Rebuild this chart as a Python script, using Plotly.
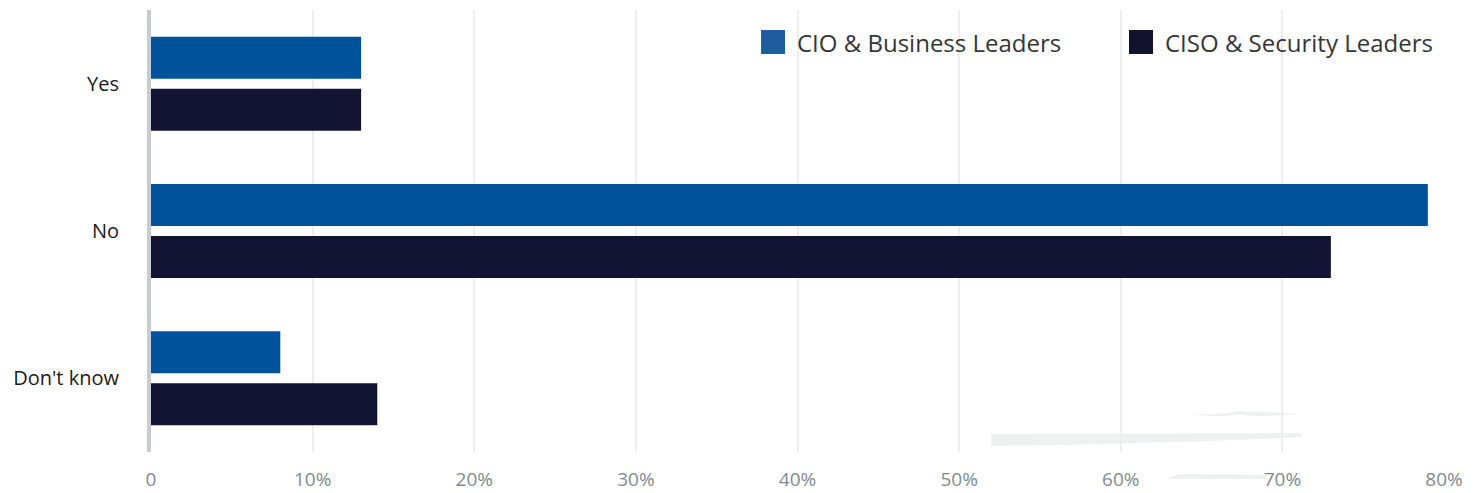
import plotly.graph_objects as go

# Survey responses (% of respondents)
categories = ["Yes", "No", "Don't know"]
series_names = ["CIO & Business Leaders", "CISO & Security Leaders"]
cio_values = [13, 79, 8]
ciso_values = [13, 73, 14]
x_tickvals = [0, 10, 20, 30, 40, 50, 60, 70, 80]
x_ticktext = ["0", "10%", "20%", "30%", "40%", "50%", "60%", "70%", "80%"]

colors = ["#00529b", "#131433"]
legend_colors = ["#1f5c9e", "#12122f"]
font_family = "'Open Sans', Lato, sans-serif"

fig = go.Figure()
for name, vals, col in zip(series_names, [cio_values, ciso_values], colors):
    fig.add_trace(go.Bar(
        y=categories, x=vals, name=name, orientation="h",
        marker=dict(color=col, line=dict(width=0)),
        hoverinfo="x+name",
    ))

# Custom legend: square swatch + label, top right
legend_x = [0.4718, 0.7564]  # paper coordinates of the swatches' left edges
for name, col, lx in zip(series_names, legend_colors, legend_x):
    fig.add_shape(type="rect", xref="paper", yref="paper",
                  x0=lx, x1=lx + 0.01856, y0=0.9005, y1=0.9548,
                  fillcolor=col, line=dict(width=0), layer="above")
    fig.add_annotation(xref="paper", yref="paper", x=lx + 0.0265, y=0.9276,
                       text=name, showarrow=False, xanchor="left", yanchor="middle",
                       font=dict(family=font_family, size=24, color="#363636"))

# Faint background watermark strokes
wm = "#eff1f1"
fig.add_shape(type="path", xref="paper", yref="paper", layer="below",
              path="M 0.6497 0.0407 L 0.8902 0.043 L 0.8902 0.0339 Q 0.80 0.020 0.6497 0.0136 Z",
              fillcolor=wm, line=dict(width=0))
fig.add_shape(type="path", xref="paper", yref="paper", layer="below",
              path="M 0.8040 0.0860 Q 0.825 0.084 0.8408 0.0928 Q 0.865 0.0900 0.8878 0.0860 "
                   "Q 0.865 0.0800 0.8480 0.0820 Q 0.8408 0.0860 0.8340 0.0820 Q 0.820 0.0800 0.8040 0.0860 Z",
              fillcolor=wm, line=dict(width=0))
fig.add_shape(type="path", xref="paper", yref="paper", layer="below",
              path="M 0.7858 -0.061 Q 0.792 -0.050 0.800 -0.0498 L 0.863 -0.0520 L 0.863 -0.061 Z",
              fillcolor=wm, line=dict(width=0))

fig.update_layout(
    width=1479, height=493,
    margin=dict(l=151, r=35, t=10, b=41),
    paper_bgcolor="white", plot_bgcolor="white",
    barmode="group", bargap=0.294, bargroupgap=0.192,
    showlegend=False,
    font=dict(family=font_family),
    xaxis=dict(
        range=[0, 80], tickvals=x_tickvals, ticktext=x_ticktext,
        showgrid=True, gridcolor="#eceef0", gridwidth=2,
        zeroline=False, showline=False, automargin=False,
        tickfont=dict(family=font_family, size=19, color="#7f8c8d"),
        ticklabelstandoff=14, fixedrange=True,
    ),
    yaxis=dict(
        autorange="reversed", showgrid=False, zeroline=False,
        showline=True, linecolor="#c8ccd0", linewidth=4, automargin=False,
        tickfont=dict(family=font_family, size=20, color="#1a1a1a"),
        ticklabelstandoff=24, fixedrange=True,
    ),
)

fig.write_html("out.html")
